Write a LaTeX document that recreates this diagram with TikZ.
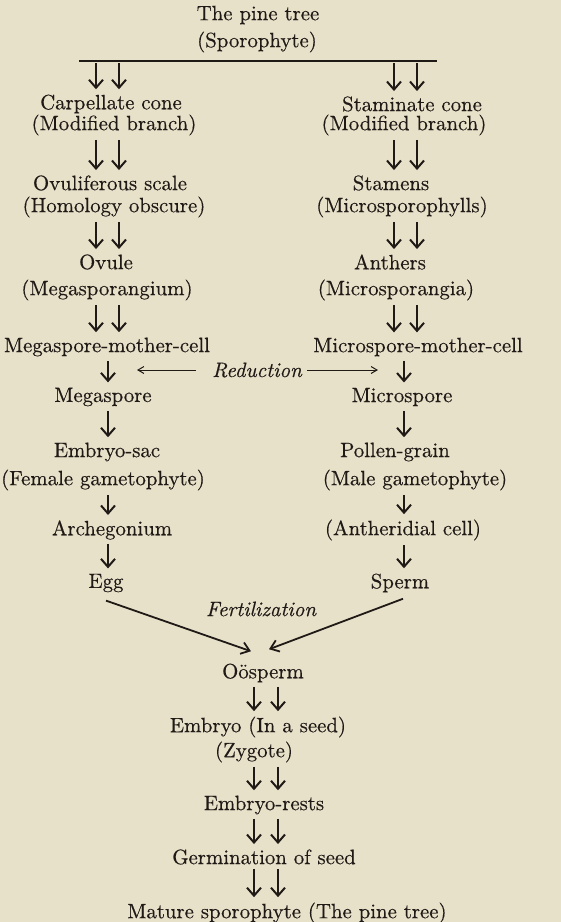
\documentclass[tikz,border=0pt]{standalone}
\usepackage{fontspec}
\setmainfont{Latin Modern Roman}[FakeBold=0.4]
\usepackage{xcolor}
\usepackage{tikz}
\usetikzlibrary{arrows.meta, positioning}
\definecolor{pagetan}{HTML}{E8E1CA}
\definecolor{inkbrown}{HTML}{201A16}
\tikzset{
  txtnode/.style={inner sep=1pt,text=inkbrown,font=\fontsize{10.4}{12.5}\selectfont},
  italnode/.style={txtnode,font=\fontsize{10.4}{12.5}\selectfont\itshape},
  barline/.style={line width=1.3pt,inkbrown},
  downedge/.style={-{Straight Barb[length=4pt,width=7pt]},line width=1pt,inkbrown,shorten <=1pt,shorten >=1.5pt},
  fertedge/.style={-{Straight Barb[length=4pt,width=6pt]},line width=0.9pt,inkbrown},
  rededge/.style={-{Straight Barb[length=3pt,width=3.5pt]},line width=0.5pt,inkbrown},
}

\begin{document}
\begin{tikzpicture}[x=0.5pt,y=-0.5pt]
  \fill[pagetan] (0,0) rectangle (561,922);
  \useasboundingbox (0,0) rectangle (561,922);
  % arrow columns
  \coordinate (cLa) at (96,0);
  \coordinate (cLb) at (119,0);
  \coordinate (cLs) at (108,0);
  \coordinate (cRa) at (394,0);
  \coordinate (cRb) at (417,0);
  \coordinate (cRs) at (404,0);
  \coordinate (cMa) at (254,0);
  \coordinate (cMb) at (278,0);
  % the pine tree
  \node[txtnode] (nPine) at (258,15) {The pine tree};
  \node[txtnode] (nPineSub) at (257,42) {(Sporophyte)};
  \coordinate (barL) at (79,61);
  \coordinate (barR) at (437,61);
  \draw[barline] (barL) -- (barR);
  % carpellate side
  \node[txtnode] (nCarp) at (111,104) {Carpellate cone};
  \node[txtnode] (nCarpSub) at (114,125) {(Modified branch)};
  \node[txtnode] (nOvs) at (110,183) {Ovuliferous scale};
  \node[txtnode] (nOvsSub) at (114,207) {(Homology obscure)};
  \node[txtnode] (nOvule) at (106,262) {Ovule};
  \node[txtnode] (nOvuleSub) at (107,290) {(Megasporangium)};
  \node[txtnode] (nMegMC) at (107,347) {Megaspore-mother-cell};
  \node[txtnode] (nMeg) at (103,397) {Megaspore};
  \node[txtnode] (nSac) at (107,452) {Embryo-sac};
  \node[txtnode] (nSacSub) at (103,480) {(Female gametophyte)};
  \node[txtnode] (nArch) at (112,530) {Archegonium};
  \node[txtnode] (nEgg) at (106,583) {Egg};
  % staminate side
  \node[txtnode] (nStam) at (412,104) {Staminate cone};
  \node[txtnode] (nStamSub) at (404,125) {(Modified branch)};
  \node[txtnode] (nStm) at (391,183) {Stamens};
  \node[txtnode] (nStmSub) at (402,207) {(Microsporophylls)};
  \node[txtnode] (nAnth) at (390,262) {Anthers};
  \node[txtnode] (nAnthSub) at (396,290) {(Microsporangia)};
  \node[txtnode] (nMicMC) at (418,347) {Microspore-mother-cell};
  \node[txtnode] (nMic) at (402,397) {Microspore};
  \node[txtnode] (nPol) at (395,452) {Pollen-grain};
  \node[txtnode] (nPolSub) at (415,480) {(Male gametophyte)};
  \node[txtnode] (nAnt) at (403,530) {(Antheridial cell)};
  \node[txtnode] (nSperm) at (400,583) {Sperm};
  % middle
  \node[italnode] (nRed) at (257,370) {Reduction};
  \coordinate (redL) at (137,370);
  \coordinate (redR) at (378,370);
  \node[italnode] (nFert) at (261,609) {Fertilization};
  \node[txtnode] (nOosp) at (263,673) {Oösperm};
  \node[txtnode] (nEmb) at (258,727) {Embryo (In a seed)};
  \node[txtnode] (nZyg) at (254,752) {(Zygote)};
  \node[txtnode] (nRests) at (264,805) {Embryo-rests};
  \node[txtnode] (nGerm) at (264,857) {Germination of seed};
  \node[txtnode] (nMature) at (287,913) {Mature sporophyte (The pine tree)};
  % left chain
  \draw[downedge] (barL -| cLa) -- (nCarp.north -| cLa);
  \draw[downedge] (barL -| cLb) -- (nCarp.north -| cLb);
  \draw[downedge] (nCarpSub.south -| cLa) -- (nOvs.north -| cLa);
  \draw[downedge] (nCarpSub.south -| cLb) -- (nOvs.north -| cLb);
  \draw[downedge] (nOvsSub.south -| cLa) -- (nOvule.north -| cLa);
  \draw[downedge] (nOvsSub.south -| cLb) -- (nOvule.north -| cLb);
  \draw[downedge] (nOvuleSub.south -| cLa) -- (nMegMC.north -| cLa);
  \draw[downedge] (nOvuleSub.south -| cLb) -- (nMegMC.north -| cLb);
  \draw[downedge] (nMegMC.south -| cLs) -- (nMeg.north -| cLs);
  \draw[downedge] (nMeg.south -| cLs) -- (nSac.north -| cLs);
  \draw[downedge] (nSacSub.south -| cLs) -- (nArch.north -| cLs);
  \draw[downedge] (nArch.south -| cLs) -- (nEgg.north -| cLs);
  % right chain
  \draw[downedge] (barL -| cRa) -- (nStam.north -| cRa);
  \draw[downedge] (barL -| cRb) -- (nStam.north -| cRb);
  \draw[downedge] (nStamSub.south -| cRa) -- (nStm.north -| cRa);
  \draw[downedge] (nStamSub.south -| cRb) -- (nStm.north -| cRb);
  \draw[downedge] (nStmSub.south -| cRa) -- (nAnth.north -| cRa);
  \draw[downedge] (nStmSub.south -| cRb) -- (nAnth.north -| cRb);
  \draw[downedge] (nAnthSub.south -| cRa) -- (nMicMC.north -| cRa);
  \draw[downedge] (nAnthSub.south -| cRb) -- (nMicMC.north -| cRb);
  \draw[downedge] (nMicMC.south -| cRs) -- (nMic.north -| cRs);
  \draw[downedge] (nMic.south -| cRs) -- (nPol.north -| cRs);
  \draw[downedge] (nPolSub.south -| cRs) -- (nAnt.north -| cRs);
  \draw[downedge] (nAnt.south -| cRs) -- (nSperm.north -| cRs);
  % reduction
  \draw[rededge,shorten <=7pt] (nRed.west) -- (redL);
  \draw[rededge,shorten <=1.5pt] (nRed.east) -- (redR);
  % fertilization
  \draw[fertedge] ([yshift=-3pt]nEgg.south) -- ([xshift=-6pt,yshift=5pt]nOosp.north);
  \draw[fertedge] ([xshift=1.5pt,yshift=-2pt]nSperm.south) -- ([xshift=3pt,yshift=6pt]nOosp.north);
  % centre chain
  \draw[downedge] (nOosp.south -| cMa) -- (nEmb.north -| cMa);
  \draw[downedge] (nOosp.south -| cMb) -- (nEmb.north -| cMb);
  \draw[downedge] (nZyg.south -| cMa) -- (nRests.north -| cMa);
  \draw[downedge] (nZyg.south -| cMb) -- (nRests.north -| cMb);
  \draw[downedge] (nRests.south -| cMa) -- (nGerm.north -| cMa);
  \draw[downedge] (nRests.south -| cMb) -- (nGerm.north -| cMb);
  \draw[downedge] (nGerm.south -| cMa) -- (nMature.north -| cMa);
  \draw[downedge] (nGerm.south -| cMb) -- (nMature.north -| cMb);
\end{tikzpicture}
\end{document}
